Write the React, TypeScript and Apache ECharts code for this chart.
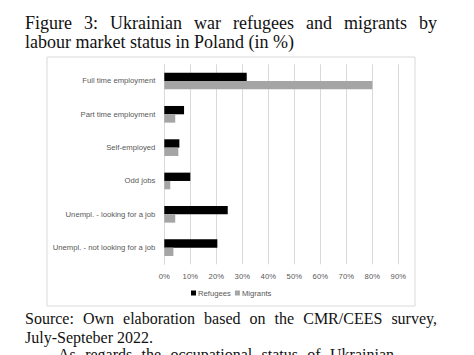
import React, { useEffect, useRef } from "react";
import * as echarts from "echarts";

const categories = [
  "Full time employment",
  "Part time employment",
  "Self-employed",
  "Odd jobs",
  "Unempl. - looking for a job",
  "Unempl. - not looking for a job",
];
const refugees = [31.7, 7.6, 5.8, 10.0, 24.4, 20.4];
const migrants = [80.0, 4.2, 5.4, 2.3, 4.2, 3.5];
const seriesNames = ["Refugees", "Migrants"];

const titleLine1 = ["Figure", "3:", "Ukrainian", "war", "refugees", "and", "migrants", "by"];
const titleLine2 = "labour market status in Poland (in %)";
const sourceLine1 = ["Source:", "Own", "elaboration", "based", "on", "the", "CMR/CEES", "survey,"];
const sourceLine2 = "July-Septeber 2022.";
const nextLine = ["As", "regards", "the", "occupational", "status", "of", "Ukrainian"];

const SERIF = "'Liberation Serif', 'Times New Roman', serif";
const SANS = "'Liberation Sans', Arial, sans-serif";
const TITLE_FONT = `18px ${SERIF}`;
const BODY_FONT = `16px ${SERIF}`;

function justify(list: string[], x0: number, x1: number, y: number, font: string) {
  const c = document.createElement("canvas").getContext("2d")!;
  c.font = font;
  const widths = list.map((w) => c.measureText(w).width);
  const total = widths.reduce((a, b) => a + b, 0);
  const gap = (x1 - x0 - total) / (list.length - 1);
  let x = x0;
  return list.map((w, i) => {
    const el = {
      type: "text",
      x,
      y,
      style: { text: w, font, fill: "#111", align: "left", verticalAlign: "middle" },
    };
    x += widths[i] + gap;
    return el;
  });
}

export default function App() {
  const ref = useRef<HTMLDivElement>(null);
  useEffect(() => {
    if (!ref.current) return;
    const chart = echarts.init(ref.current, null, { renderer: "svg" });
    chart.setOption({
      animation: false,
      backgroundColor: "#fff",
      grid: { left: 164.3, right: 75.7, top: 64.3, height: 200, containLabel: false },
      xAxis: {
        type: "value",
        min: 0,
        max: 90,
        interval: 10,
        axisLine: { show: false },
        axisTick: { show: false },
        axisLabel: { formatter: "{value}%", color: "#595959", fontSize: 7.7, fontFamily: SANS, margin: 8 },
        splitLine: { show: true, lineStyle: { color: "#d9d9d9", width: 1 } },
      },
      yAxis: {
        type: "category",
        inverse: true,
        data: categories,
        axisLine: { show: true, lineStyle: { color: "#d9d9d9" } },
        axisTick: { show: false },
        axisLabel: { color: "#595959", fontSize: 7.7, fontFamily: SANS, margin: 9 },
      },
      legend: {
        data: seriesNames,
        left: 191,
        top: 289,
        padding: 0,
        itemWidth: 5,
        itemHeight: 5,
        itemGap: 4,
        icon: "rect",
        textStyle: { color: "#595959", fontSize: 7.7, fontFamily: SANS, padding: [0, 0, 0, -3] },
      },
      series: [
        {
          name: seriesNames[0],
          type: "bar",
          data: refugees,
          itemStyle: { color: "#000000" },
          barGap: "0%",
          barCategoryGap: "50%",
        },
        {
          name: seriesNames[1],
          type: "bar",
          data: migrants,
          itemStyle: { color: "#a5a5a5" },
          barGap: "0%",
          barCategoryGap: "50%",
        },
      ],
      graphic: [
        {
          type: "rect",
          shape: { x: 47, y: 57, width: 368, height: 249 },
          style: { fill: "none", stroke: "#d9d9d9", lineWidth: 1 },
          z: -1,
        },
        ...justify(titleLine1, 25, 437, 23.2, TITLE_FONT),
        {
          type: "text",
          x: 25,
          y: 42.2,
          style: { text: titleLine2, font: TITLE_FONT, fill: "#111", align: "left", verticalAlign: "middle" },
        },
        ...justify(sourceLine1, 25, 437, 318.6, BODY_FONT),
        {
          type: "text",
          x: 25,
          y: 337.3,
          style: { text: sourceLine2, font: BODY_FONT, fill: "#111", align: "left", verticalAlign: "middle" },
        },
        ...justify(nextLine, 58, 394, 354.2, BODY_FONT),
      ],
    });
    return () => chart.dispose();
  }, []);
  return (
    <div
      ref={ref}
      style={{ position: "fixed", left: 0, top: 0, width: 474, height: 355, background: "#fff" }}
    />
  );
}
